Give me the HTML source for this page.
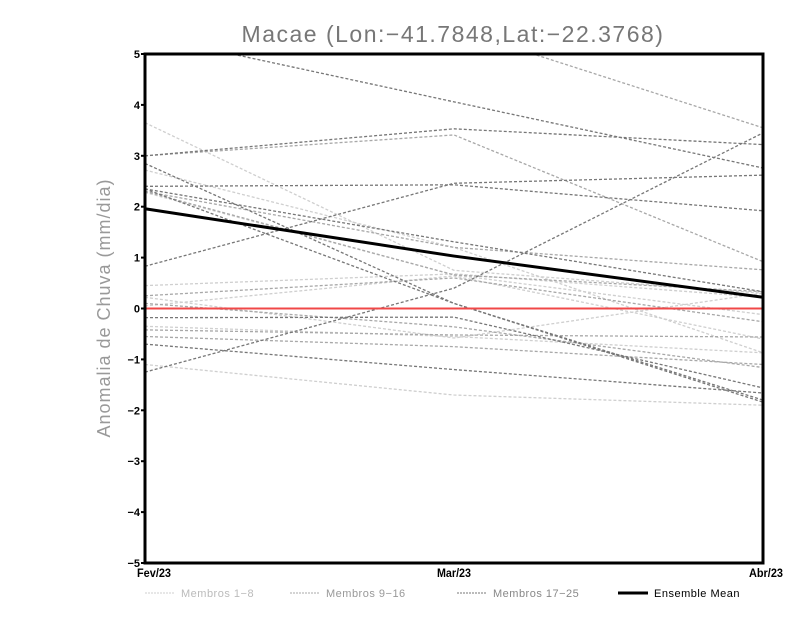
<!DOCTYPE html>
<html><head><meta charset="utf-8"><style>
body{margin:0;background:#fff;width:800px;height:618px;overflow:hidden;font-family:"Liberation Sans",sans-serif}
</style></head><body>
<svg id="chart" width="800" height="618" xmlns="http://www.w3.org/2000/svg">
<text x="453" y="42" text-anchor="middle" font-size="23" fill="#777" letter-spacing="1.5" font-family="Liberation Sans, sans-serif">Macae (Lon:−41.7848,Lat:−22.3768)</text>
<text transform="translate(110,308) rotate(-90)" text-anchor="middle" font-size="18" fill="#999" letter-spacing="1">Anomalia de Chuva (mm/dia)</text>
<g id="plot"></g>
</svg>
<script>
const categories=["Fev/23","Mar/23","Abr/23"];
const yTicks=[-5,-4,-3,-2,-1,0,1,2,3,4,5];
const members1to8=[[3.65,0.75,0.3],[2.72,1.2,-0.87],[2.28,0.66,-0.12],[0.45,0.68,0.22],[0.22,-0.58,0.3],[-0.35,-0.55,-0.87],[-1.1,-1.7,-1.9],[0.05,0.64,-0.6]];
const members9to16=[[3.0,3.41,0.92],[7.0,5.5,3.55],[2.3,1.2,0.76],[0.1,-0.36,-1.16],[-0.42,-0.52,-0.56],[0.25,0.6,-0.26],[-0.55,-0.75,-1.1],[2.3,0.66,0.33]];
const members17to25=[[5.37,4.06,2.76],[3.0,3.53,3.22],[2.85,0.1,-1.84],[0.83,2.46,2.62],[2.4,2.43,1.92],[2.35,1.31,0.33],[-1.25,0.4,3.45],[2.35,0.1,-1.8],[-0.18,-0.17,-1.56],[-0.7,-1.2,-1.66]];
const ensembleMean=[1.96,1.03,0.22];

const X0=145,X1=763,Y0=563,Y1=54;
const xs=i=>X0+(X1-X0)*i/(categories.length-1);
const ys=v=>Y0-(v+5)/10*(Y0-Y1);
const NS="http://www.w3.org/2000/svg";
const g=document.getElementById('plot');
function mk(t,a){const e=document.createElementNS(NS,t);for(const k in a)e.setAttribute(k,a[k]);g.appendChild(e);return e;}
const clip=mk('clipPath',{id:'c'});
const cr=document.createElementNS(NS,'rect');cr.setAttribute('x',X0);cr.setAttribute('y',Y1);cr.setAttribute('width',X1-X0);cr.setAttribute('height',Y0-Y1);clip.appendChild(cr);
function series(arr,color,name){arr.forEach((s,k)=>{
 const p=mk('polyline',{points:s.map((v,i)=>xs(i)+','+ys(v)).join(' '),fill:'none',stroke:color,'stroke-width':1.3,'stroke-dasharray':'3,2','clip-path':'url(#c)'});
 
 
});}
series(members1to8,'#cfcfcf','member-light');
series(members9to16,'#a8a8a8','member-mid');
series(members17to25,'#777','member-dark');
const zl=mk('line',{x1:X0,x2:X1,y1:ys(0),y2:ys(0),stroke:'#f04848','stroke-width':2});


const ml=mk('polyline',{points:ensembleMean.map((v,i)=>xs(i)+','+ys(v)).join(' '),fill:'none',stroke:'#000','stroke-width':3});


const fr=mk('rect',{x:X0,y:Y1,width:X1-X0,height:Y0-Y1,fill:'none',stroke:'#000','stroke-width':3});


yTicks.forEach(t=>{
 const l=mk('line',{x1:X0-4,x2:X0,y1:ys(t),y2:ys(t),stroke:'#000','stroke-width':2});
 
 
 const tx=mk('text',{x:X0-5,y:ys(t)+4,'text-anchor':'end','font-size':11,'font-weight':'bold'});
 tx.textContent=t<0?'\u2212'+(-t):String(t);
 
 
});
categories.forEach((c,i)=>{
 const anchor=i===0?'start':(i===categories.length-1?'end':'middle');
 const dx=i===0?-8:(i===categories.length-1?20:0);
 const tx=mk('text',{x:xs(i)+dx,y:Y0+14,'text-anchor':anchor,'font-size':12,'font-weight':'bold',textLength:34,lengthAdjust:'spacingAndGlyphs'});
 tx.textContent=c;
 
 
});
const legendLabels=['Membros 1\u22128','Membros 9\u221216','Membros 17\u221225','Ensemble Mean'];
const legendColors=['#cfcfcf','#a8a8a8','#777','#000'];
const legendText=['#bbb','#999','#888','#000'];
const legendX=[145,290,457,618];
legendLabels.forEach((lab,k)=>{
 const solid=k===3;
 const l=mk('line',{x1:legendX[k],x2:legendX[k]+30,y1:593,y2:593,stroke:legendColors[k],'stroke-width':solid?3:1});
 if(!solid)l.setAttribute('stroke-dasharray','2,1');
 
 
 const t=mk('text',{x:legendX[k]+36,y:597,'font-size':11,fill:legendText[k],'letter-spacing':'0.5'});
 t.textContent=lab;
 
 
});
</script>
</body></html>
